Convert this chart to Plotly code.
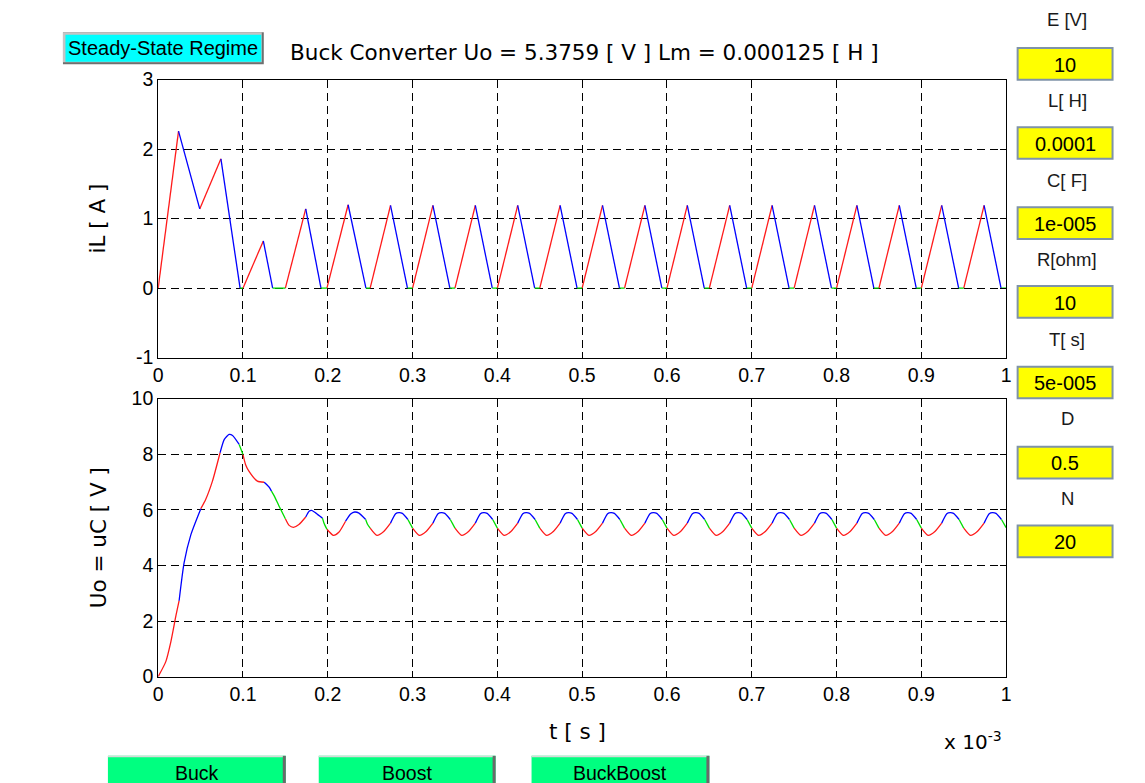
import plotly.graph_objects as go

# Target picture coordinates (reference pixels) are mapped onto the figure so that the
# photographed page lines up with the reference.
SX, OX = 0.992, 12.0
SY, OY = 0.970, 18.8
FW, FH = 1129, 790

# ---------------- data (time in ms, i.e. x 10^-3 s) ----------------
# Inductor current iL [A]: breakpoints and the phase of the segment that starts at each point
il_t = [0, 0.024, 0.049, 0.074, 0.0966, 0.1, 0.124, 0.135, 0.15, 0.174, 0.192, 0.199, 0.224, 0.245,
        0.25, 0.274, 0.294,
        0.3, 0.324, 0.344,
        0.35, 0.374, 0.394,
        0.4, 0.424, 0.444,
        0.45, 0.474, 0.494,
        0.5, 0.524, 0.544,
        0.55, 0.574, 0.594,
        0.6, 0.624, 0.644,
        0.65, 0.674, 0.694,
        0.7, 0.724, 0.744,
        0.75, 0.774, 0.794,
        0.8, 0.824, 0.844,
        0.85, 0.874, 0.894,
        0.9, 0.924, 0.944,
        0.95, 0.974, 0.994,
        1.0]
il_v = [0, 2.26, 1.14, 1.86, 0, 0, 0.68, 0, 0, 1.14, 0, 0, 1.2, 0,
        0, 1.19, 0,
        0, 1.19, 0,
        0, 1.19, 0,
        0, 1.19, 0,
        0, 1.19, 0,
        0, 1.19, 0,
        0, 1.19, 0,
        0, 1.19, 0,
        0, 1.19, 0,
        0, 1.19, 0,
        0, 1.19, 0,
        0, 1.19, 0,
        0, 1.19, 0,
        0, 1.19, 0,
        0, 1.19, 0,
        0]
il_phase = ['r', 'b', 'r', 'b', 'g', 'r', 'b', 'g', 'r', 'b', 'g', 'r', 'b', 'g',
            'r', 'b', 'g',
            'r', 'b', 'g',
            'r', 'b', 'g',
            'r', 'b', 'g',
            'r', 'b', 'g',
            'r', 'b', 'g',
            'r', 'b', 'g',
            'r', 'b', 'g',
            'r', 'b', 'g',
            'r', 'b', 'g',
            'r', 'b', 'g',
            'r', 'b', 'g',
            'r', 'b', 'g',
            'r', 'b', 'g',
            'r', 'b', 'g',
            'r']

# Output voltage Uo = uC [V]
uo_t = [0, 0.009, 0.015, 0.021, 0.0247, 0.0306, 0.0385, 0.0503, 0.056, 0.064,
        0.073, 0.078, 0.0837, 0.0877, 0.0955, 0.098, 0.1, 0.103, 0.107, 0.117,
        0.125, 0.131, 0.1336, 0.137, 0.1426, 0.15, 0.1544, 0.1595, 0.166, 0.174,
        0.178, 0.181, 0.186, 0.1937, 0.1956, 0.199, 0.2067, 0.213, 0.221, 0.227,
        0.2318, 0.2368, 0.2447, 0.2467,
        0.25, 0.258, 0.266, 0.274, 0.28, 0.284, 0.288, 0.2945,
        0.3, 0.308, 0.316, 0.324, 0.33, 0.334, 0.338, 0.3445,
        0.35, 0.358, 0.366, 0.374, 0.38, 0.384, 0.388, 0.3945,
        0.4, 0.408, 0.416, 0.424, 0.43, 0.434, 0.438, 0.4445,
        0.45, 0.458, 0.466, 0.474, 0.48, 0.484, 0.488, 0.4945,
        0.5, 0.508, 0.516, 0.524, 0.53, 0.534, 0.538, 0.5445,
        0.55, 0.558, 0.566, 0.574, 0.58, 0.584, 0.588, 0.5945,
        0.6, 0.608, 0.616, 0.624, 0.63, 0.634, 0.638, 0.6445,
        0.65, 0.658, 0.666, 0.674, 0.68, 0.684, 0.688, 0.6945,
        0.7, 0.708, 0.716, 0.724, 0.73, 0.734, 0.738, 0.7445,
        0.75, 0.758, 0.766, 0.774, 0.78, 0.784, 0.788, 0.7945,
        0.8, 0.808, 0.816, 0.824, 0.83, 0.834, 0.838, 0.8445,
        0.85, 0.858, 0.866, 0.874, 0.88, 0.884, 0.888, 0.8945,
        0.9, 0.908, 0.916, 0.924, 0.93, 0.934, 0.938, 0.9445,
        0.95, 0.958, 0.966, 0.974, 0.98, 0.984, 0.988, 0.9945,
        1.0]
uo_v = [0, 0.54, 1.26, 2.2, 2.73, 4.1, 5.1, 6.04, 6.37, 7.03,
        8.05, 8.53, 8.71, 8.67, 8.35, 8.15, 7.99, 7.63, 7.39, 7.03,
        6.99, 6.81, 6.67, 6.49, 6.13, 5.68, 5.44, 5.37, 5.47, 5.74,
        5.95, 5.98, 5.88, 5.7, 5.52, 5.3, 5.08, 5.19, 5.59, 5.85,
        5.92, 5.88, 5.65, 5.49,
        5.34, 5.08, 5.22, 5.52, 5.86, 5.9, 5.87, 5.65,
        5.34, 5.08, 5.22, 5.52, 5.86, 5.9, 5.87, 5.65,
        5.34, 5.08, 5.22, 5.52, 5.86, 5.9, 5.87, 5.65,
        5.34, 5.08, 5.22, 5.52, 5.86, 5.9, 5.87, 5.65,
        5.34, 5.08, 5.22, 5.52, 5.86, 5.9, 5.87, 5.65,
        5.34, 5.08, 5.22, 5.52, 5.86, 5.9, 5.87, 5.65,
        5.34, 5.08, 5.22, 5.52, 5.86, 5.9, 5.87, 5.65,
        5.34, 5.08, 5.22, 5.52, 5.86, 5.9, 5.87, 5.65,
        5.34, 5.08, 5.22, 5.52, 5.86, 5.9, 5.87, 5.65,
        5.34, 5.08, 5.22, 5.52, 5.86, 5.9, 5.87, 5.65,
        5.34, 5.08, 5.22, 5.52, 5.86, 5.9, 5.87, 5.65,
        5.34, 5.08, 5.22, 5.52, 5.86, 5.9, 5.87, 5.65,
        5.34, 5.08, 5.22, 5.52, 5.86, 5.9, 5.87, 5.65,
        5.34, 5.08, 5.22, 5.52, 5.86, 5.9, 5.87, 5.65,
        5.34, 5.08, 5.22, 5.52, 5.86, 5.9, 5.87, 5.65,
        5.36]
uo_phase = ['r', 'r', 'r', 'r', 'b', 'b', 'b', 'r', 'r', 'r',
            'b', 'b', 'b', 'b', 'g', 'g', 'r', 'r', 'r', 'r',
            'b', 'b', 'g', 'g', 'g', 'r', 'r', 'r', 'r', 'b',
            'b', 'b', 'b', 'g', 'g', 'r', 'r', 'r', 'b', 'b',
            'b', 'b', 'g', 'g',
            'r', 'r', 'r', 'b', 'b', 'b', 'b', 'g',
            'r', 'r', 'r', 'b', 'b', 'b', 'b', 'g',
            'r', 'r', 'r', 'b', 'b', 'b', 'b', 'g',
            'r', 'r', 'r', 'b', 'b', 'b', 'b', 'g',
            'r', 'r', 'r', 'b', 'b', 'b', 'b', 'g',
            'r', 'r', 'r', 'b', 'b', 'b', 'b', 'g',
            'r', 'r', 'r', 'b', 'b', 'b', 'b', 'g',
            'r', 'r', 'r', 'b', 'b', 'b', 'b', 'g',
            'r', 'r', 'r', 'b', 'b', 'b', 'b', 'g',
            'r', 'r', 'r', 'b', 'b', 'b', 'b', 'g',
            'r', 'r', 'r', 'b', 'b', 'b', 'b', 'g',
            'r', 'r', 'r', 'b', 'b', 'b', 'b', 'g',
            'r', 'r', 'r', 'b', 'b', 'b', 'b', 'g',
            'r', 'r', 'r', 'b', 'b', 'b', 'b', 'g',
            'r', 'r', 'r', 'b', 'b', 'b', 'b', 'g',
            'r']

x_ticks = [0, 0.1, 0.2, 0.3, 0.4, 0.5, 0.6, 0.7, 0.8, 0.9, 1]
x_ticklabels = ['0', '0.1', '0.2', '0.3', '0.4', '0.5', '0.6', '0.7', '0.8', '0.9', '1']
il_ticks = [-1, 0, 1, 2, 3]
il_ticklabels = ['-1', '0', '1', '2', '3']
uo_ticks = [0, 2, 4, 6, 8, 10]
uo_ticklabels = ['0', '2', '4', '6', '8', '10']

param_labels = ['E [V]', 'L[ H]', 'C[ F]', 'R[ohm]', 'T[ s]', 'D', 'N']
param_values = ['10', '0.0001', '1e-005', '10', '5e-005', '0.5', '20']
mode_buttons = ['Buck', 'Boost', 'BuckBoost']

title_text = 'Buck Converter Uo = 5.3759 [ V ] Lm = 0.000125 [ H ]'

COLORS = {'r': '#ff1a1a', 'b': '#0000ff', 'g': '#00dd00'}


def split_by_phase(t, v, phase, key):
    xs, ys = [], []
    prev = False
    for i in range(len(t) - 1):
        if phase[i] == key:
            if not prev:
                if xs:
                    xs.append(None)
                    ys.append(None)
                xs.append(t[i])
                ys.append(v[i])
            xs.append(t[i + 1])
            ys.append(v[i + 1])
            prev = True
        else:
            prev = False
    return xs, ys


fig = go.Figure()
for key in ['r', 'b', 'g']:
    xs, ys = split_by_phase(il_t, il_v, il_phase, key)
    fig.add_trace(go.Scatter(x=xs, y=ys, mode='lines', xaxis='x', yaxis='y',
                             line=dict(color=COLORS[key], width=1.3), hoverinfo='skip',
                             showlegend=False))
for key in ['r', 'b', 'g']:
    xs, ys = split_by_phase(uo_t, uo_v, uo_phase, key)
    fig.add_trace(go.Scatter(x=xs, y=ys, mode='lines', xaxis='x2', yaxis='y2',
                             line=dict(color=COLORS[key], width=1.3, shape='spline', smoothing=0.6),
                             hoverinfo='skip', showlegend=False))


def px(a):
    return ((a - OX) / SX) / FW


def py(a):
    return 1 - ((a - OY) / SY) / FH


XL, XR = 157.3, 1006.0
TOP1, BOT1 = 79.3, 356.7
TOP2, BOT2 = 397.5, 675.0

sans = 'Liberation Sans, Arial, sans-serif'
tickfont = dict(family=sans, size=19.5, color='black')
common_x = dict(range=[0, 1], tickvals=x_ticks, ticktext=x_ticklabels, showgrid=True,
                gridcolor='black', griddash='8px,5px', gridwidth=1, zeroline=False,
                showline=True, linecolor='black', linewidth=1, mirror='ticks',
                ticks='inside', ticklen=6, tickcolor='black', tickfont=tickfont,
                domain=[px(XL), px(XR)], fixedrange=True)
common_y = dict(showgrid=True, gridcolor='black', griddash='8px,5px', gridwidth=1,
                zeroline=False, showline=True, linecolor='black', linewidth=1,
                mirror='ticks', ticks='inside', ticklen=6, tickcolor='black',
                tickfont=tickfont, fixedrange=True)

fig.update_layout(
    width=FW, height=FH, margin=dict(l=0, r=0, t=0, b=0),
    paper_bgcolor='white', plot_bgcolor='white', showlegend=False,
    xaxis=dict(common_x, anchor='y'),
    yaxis=dict(common_y, range=[-1, 3], tickvals=il_ticks, ticktext=il_ticklabels,
               anchor='x', domain=[py(BOT1), py(TOP1)]),
    xaxis2=dict(common_x, anchor='y2'),
    yaxis2=dict(common_y, range=[0, 10], tickvals=uo_ticks, ticktext=uo_ticklabels,
                anchor='x2', domain=[py(BOT2), py(TOP2)]),
)

shapes = []
annotations = []
lab_font = dict(family='DejaVu Sans, sans-serif', size=21.5, color='black')


def text(t, x, y, font, xanchor='center', angle=0):
    annotations.append(dict(text=t, x=px(x), y=py(y), xref='paper', yref='paper',
                            xanchor=xanchor, yanchor='middle', textangle=angle,
                            showarrow=False, font=font))


# title and axis labels
text(title_text, 287, 52, lab_font, xanchor='left')
text('iL [ A ]', 97, 218, lab_font, angle=-90)
text('Uo = uC [ V ]', 97, 536, lab_font, angle=-90)
text('t [ s ]', 577, 730, lab_font)
text('x 10<sup>-3</sup>', 942, 739, dict(family='DejaVu Sans, sans-serif', size=20, color='black'),
     xanchor='left')


def rect(x0, y0, x1, y1, fill, line_color=None, lw=0):
    shapes.append(dict(type='rect', xref='paper', yref='paper', x0=px(x0), x1=px(x1),
                       y0=py(y1), y1=py(y0), fillcolor=fill,
                       line=dict(color=line_color or fill, width=lw), layer='above'))


# Steady-State Regime button
rect(62, 32, 263, 64, '#6f6f6f')
rect(62, 32, 261, 62, '#c4c4c4')
rect(64.5, 34.5, 260.5, 61.5, '#00ffff')
text('Steady-State Regime', 162.5, 48, dict(family=sans, size=20, color='black'))

# parameter panel
label_y = [19, 100, 180, 259, 339, 417, 497]
box_top = [47.7, 126.7, 206.7, 285.3, 365.7, 445.7, 524.3]
for lab, val, ly, bt in zip(param_labels, param_values, label_y, box_top):
    text(lab, 1067, ly, dict(family=sans, size=18.5, color='#1a1a1a'))
    rect(1017.5, bt, 1112.5, bt + 31.6, '#ffff00', '#7f93a8', 2)
    text(val, 1065, bt + 16.5, dict(family=sans, size=20, color='black'))

# bottom mode buttons
btn_x = [(107, 285), (318, 495), (531, 709)]
for name, (x0, x1) in zip(mode_buttons, btn_x):
    rect(x0, 754, x1, 800, '#00ff80')
    rect(x1 - 3, 754, x1, 800, '#6a6a6a')
    rect(x0, 754, x1 - 3, 755.5, '#d8d8d8')
    text(name, (x0 + x1) / 2, 771, dict(family=sans, size=19.5, color='black'))

fig.update_layout(shapes=shapes, annotations=annotations)
fig.write_html('out.html', config={'displayModeBar': False})
